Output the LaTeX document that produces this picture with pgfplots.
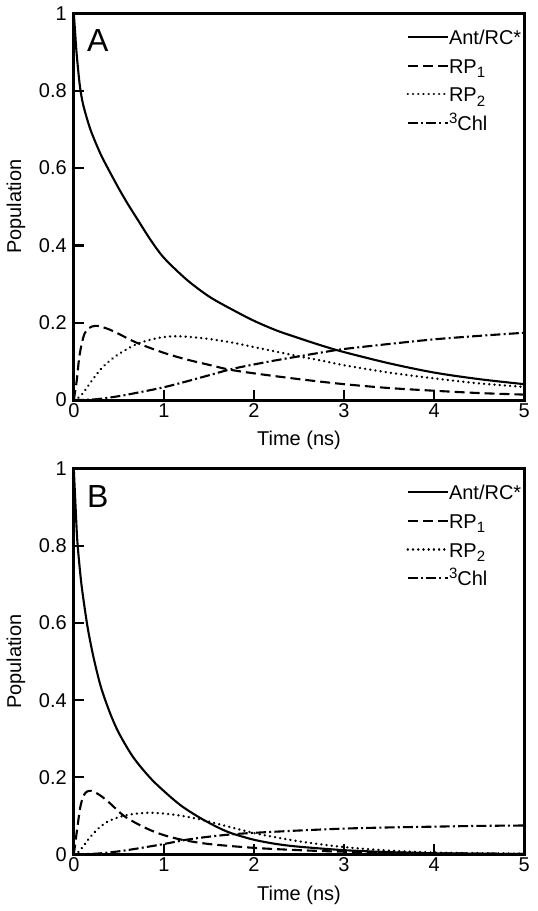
\documentclass[border=0pt]{standalone}
\usepackage{fontspec}
\setmainfont{Liberation Sans}
\usepackage{pgfplots}
\pgfplotsset{compat=1.18}

\newcommand{\sub}[1]{\raisebox{-2.2pt}{\fontsize{7.5}{8}\selectfont #1}}
\newcommand{\sups}[1]{\raisebox{3.4pt}{\fontsize{7.5}{8}\selectfont #1}}

\pgfplotsset{
  kin/.style={
    scale only axis, width=225.5pt,
    xmin=0, xmax=5, ymin=0, ymax=1,
    xtick={0,1,2,3,4,5}, ytick={0,0.2,0.4,0.6,0.8,1},
    tick align=inside, xtick pos=bottom, ytick pos=left,
    major tick length=5pt,
    every tick/.style={black, line width=1.1pt},
    axis line style={line width=1.5pt},
    /pgf/number format/assume math mode=true,
    tick label style={font=\fontsize{10}{12}\selectfont},
    xticklabel style={yshift=1.8pt},
    label style={font=\fontsize{10}{12}\selectfont},
    xlabel={Time (ns)}, ylabel={Population},
    legend style={draw=none, fill=none, inner sep=0pt, outer sep=0pt,
      at={(rel axis cs:1,1)}, anchor=north east, xshift=-1.5pt, yshift=-6pt,
      row sep=2.8pt, font=\fontsize{10}{12}\selectfont,
      nodes={inner sep=0pt, text height=9.5pt, text depth=2pt}},
    legend cell align=left,
    legend image code/.code={\draw[#1] (0pt,0pt) -- (20pt,0pt);},
  },
  ant/.style={black, line width=1.05pt, smooth},
  rpa/.style={black, line width=1.05pt, smooth, dash pattern=on 5pt off 2.5pt},
  rpb/.style={black, line width=1.3pt, smooth, line cap=round, dash pattern=on 0.01pt off 2.6pt},
  chl/.style={black, line width=1.05pt, smooth, dash pattern=on 5pt off 1.6pt on 1pt off 1.6pt},
}

\begin{document}
\begin{tikzpicture}
% panel A
\begin{axis}[kin, height=193.5pt, at={(33.5pt,255.5pt)}, anchor=south west]
\addplot[ant] coordinates {
(0,1.0)(0.015,0.95)(0.03,0.9)(0.05,0.85)(0.07,0.808)(0.1,0.768)(0.15,0.725)(0.2,0.69)(0.3,0.635)
(0.4,0.59)(0.5,0.547)(0.6,0.507)(0.7,0.47)(0.85,0.415)(1.0,0.368)(1.25,0.312)(1.5,0.268)
(1.75,0.235)(2.0,0.205)(2.25,0.18)(2.5,0.16)(2.75,0.141)(3.0,0.124)(3.5,0.095)(4.0,0.071)
(4.5,0.054)(5.0,0.041)};
\addlegendentry{Ant/RC*}
\addplot[rpa] coordinates {
(0,0)(0.02,0.03)(0.035,0.055)(0.06,0.11)(0.09,0.148)(0.12,0.172)(0.16,0.185)(0.2,0.19)
(0.25,0.192)(0.3,0.19)(0.4,0.182)(0.5,0.171)(0.7,0.148)(1.0,0.122)(1.25,0.105)(1.5,0.091)
(1.72,0.079)(2.0,0.069)(2.5,0.054)(3.0,0.041)(3.5,0.031)(4.0,0.024)(4.5,0.018)(5.0,0.014)};
\addlegendentry{RP\sub{1}}
\addplot[rpb] coordinates {
(0,0)(0.05,0.006)(0.1,0.017)(0.2,0.05)(0.3,0.08)(0.4,0.102)(0.5,0.119)(0.6,0.133)
(0.7,0.145)(0.85,0.156)(1.0,0.163)(1.15,0.165)(1.3,0.163)(1.5,0.158)(1.75,0.149)
(2.0,0.137)(2.25,0.125)(2.5,0.113)(2.75,0.102)(3.0,0.09)(3.5,0.071)(4.0,0.056)
(4.5,0.043)(5.0,0.034)};
\addlegendentry{RP\sub{2}}
\addplot[chl] coordinates {
(0,0)(0.25,0.002)(0.5,0.01)(0.75,0.021)(1.0,0.033)(1.25,0.048)(1.5,0.064)(1.75,0.08)
(2.0,0.092)(2.25,0.103)(2.5,0.113)(2.75,0.123)(3.0,0.132)(3.5,0.145)(4.0,0.157)
(4.5,0.166)(5.0,0.174)};
\addlegendentry{\sups{3}Chl}
\node[anchor=north west, inner sep=0pt, font=\fontsize{16}{18}\selectfont]
  at (rel axis cs:0,1) [xshift=6.5pt, yshift=-8pt] {A};
\end{axis}
% panel B
\begin{axis}[kin, height=193pt, at={(33.5pt,28pt)}, anchor=south west]
\addplot[ant] coordinates {
(0,1.0)(0.02,0.9)(0.04,0.81)(0.08,0.71)(0.12,0.64)(0.16,0.58)(0.22,0.51)(0.3,0.435)
(0.4,0.368)(0.5,0.315)(0.66,0.252)(0.85,0.198)(1.03,0.158)(1.2,0.125)(1.4,0.095)(1.6,0.07)
(1.75,0.055)(2.0,0.038)(2.25,0.027)(2.5,0.02)(3.0,0.011)(3.5,0.006)(4.0,0.003)
(4.5,0.002)(5.0,0.001)};
\addlegendentry{Ant/RC*}
\addplot[rpa] coordinates {
(0,0)(0.02,0.035)(0.035,0.062)(0.07,0.12)(0.1,0.147)(0.13,0.16)(0.17,0.165)(0.22,0.163)
(0.3,0.152)(0.4,0.133)(0.55,0.101)(0.7,0.08)(0.85,0.063)(1.0,0.05)(1.2,0.038)(1.5,0.027)
(2.0,0.017)(2.5,0.011)(3.0,0.007)(3.5,0.005)(4.0,0.003)(4.5,0.002)(5.0,0.001)};
\addlegendentry{RP\sub{1}}
\addplot[rpb] coordinates {
(0,0)(0.05,0.006)(0.1,0.02)(0.2,0.05)(0.3,0.073)(0.4,0.088)(0.55,0.1)(0.7,0.106)
(0.85,0.108)(1.0,0.106)(1.2,0.1)(1.4,0.091)(1.6,0.079)(1.8,0.067)(2.05,0.053)(2.5,0.034)
(3.0,0.019)(3.5,0.01)(4.0,0.005)(4.5,0.003)(5.0,0.002)};
\addlegendentry{RP\sub{2}}
\addplot[chl] coordinates {
(0,0)(0.25,0.002)(0.5,0.008)(0.75,0.017)(1.0,0.027)(1.25,0.038)(1.5,0.046)(1.75,0.052)
(2.0,0.056)(2.5,0.062)(3.0,0.067)(3.5,0.07)(4.0,0.072)(4.5,0.074)(5.0,0.075)};
\addlegendentry{\sups{3}Chl}
\node[anchor=north west, inner sep=0pt, font=\fontsize{16}{18}\selectfont]
  at (rel axis cs:0,1) [xshift=6.5pt, yshift=-8pt] {B};
\end{axis}
\useasboundingbox (0,0) rectangle (265.5pt,455.5pt);
\end{tikzpicture}
\end{document}
